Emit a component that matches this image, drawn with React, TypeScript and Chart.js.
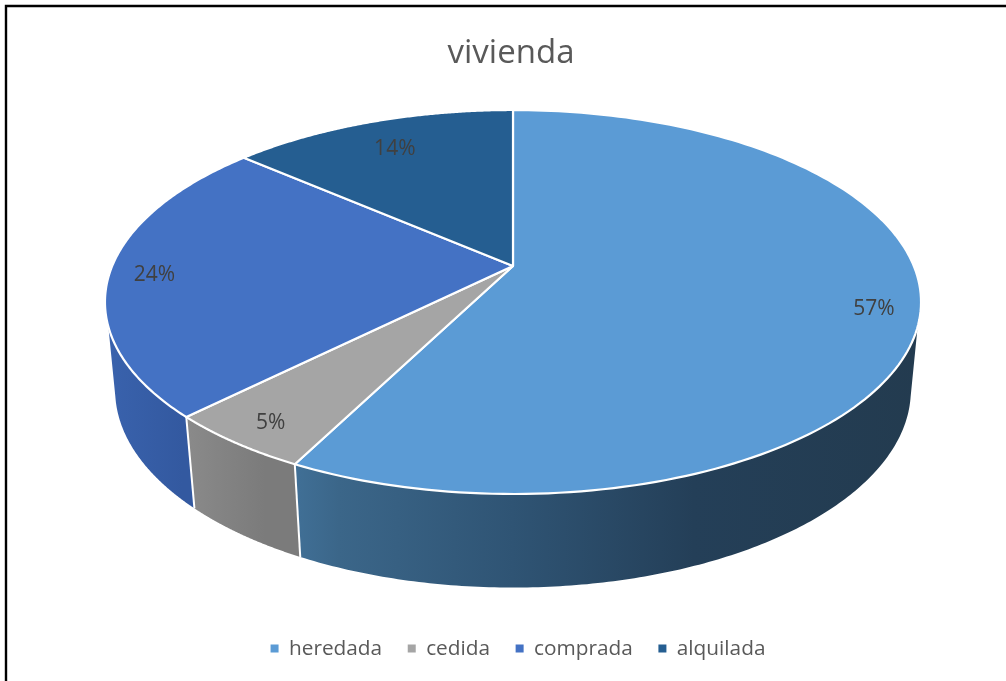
import React, { useEffect, useRef } from "react";
import { Chart, registerables } from "chart.js";

Chart.register(...registerables);

const categories = ["heredada", "cedida", "comprada", "alquilada"];
const shares = [57.49, 5.01, 23.9, 13.6];
const sliceColors = ["#5B9BD5", "#A5A5A5", "#4472C4", "#255E91"];
const wallStops = [
  [[0.2, "#44769F"], [0.29, "#3B6689"], [0.5, "#2F5474"], [0.72, "#243F58"], [1, "#233B4F"]],
  [[0.08, "#8E8E8E"], [0.2, "#7B7B7B"]],
  [[0, "#3A63AE"], [0.1, "#3359A0"]],
  [[0, "#255E91"], [1, "#255E91"]],
];
const labelRadius = [0.89, 0.89, 0.89, 0.81];
const FONT = "'Open Sans', sans-serif";

// view of the disc: a perspective projection of the unit circle
const CX = 513;
const TILT = 0.1875;
const top = { a: 400.8, b: 185.25, y0: 266 };
const bottom = { a: 390.8, b: 190.6, y0: 353 };

function project(d: typeof top, u: number, v: number): [number, number] {
  const w = 1 + TILT * v;
  return [CX + (d.a * u) / w, d.y0 - (d.b * v) / w];
}
const rim = (d: typeof top, t: number, r = 1) => project(d, r * Math.sin(t), r * Math.cos(t));
const rad = (deg: number) => (deg * Math.PI) / 180;

const pie3d = {
  id: "pie3d",
  afterLayout(chart: any) {
    chart.titleBlock.left -= 14;
  },
  beforeDraw(chart: any) {
    const { ctx } = chart;
    ctx.save();
    ctx.strokeStyle = "#000";
    ctx.lineWidth = 2.4;
    ctx.beginPath();
    ctx.moveTo(6, 681);
    ctx.lineTo(6, 6);
    ctx.lineTo(1006, 6);
    ctx.stroke();
    ctx.restore();
  },
  beforeDatasetDraw(chart: any, args: any) {
    const { ctx } = chart;
    const arcs = args.meta.data;
    const steps = 160;
    const angle = (a: any) => [a.startAngle + Math.PI / 2, a.endAngle + Math.PI / 2];
    const clampTo = (t: number, lo: number, hi: number) => Math.max(lo, Math.min(hi, t));
    ctx.save();
    ctx.lineJoin = "round";

    // side walls
    arcs.forEach((arc: any, i: number) => {
      const [s, e] = angle(arc);
      const topA = clampTo(s, rad(108), rad(252));
      const topB = clampTo(e, rad(108), rad(252));
      const botA = clampTo(s, rad(102.7), rad(257.3));
      const botB = clampTo(e, rad(102.7), rad(257.3));
      if (topB - topA <= 0) return;
      ctx.beginPath();
      for (let k = 0; k <= steps; k++) {
        const p = rim(top, topA + ((topB - topA) * k) / steps);
        k ? ctx.lineTo(p[0], p[1]) : ctx.moveTo(p[0], p[1]);
      }
      for (let k = steps; k >= 0; k--) {
        const p = rim(bottom, botA + ((botB - botA) * k) / steps);
        ctx.lineTo(p[0], p[1]);
      }
      ctx.closePath();
      const g = ctx.createLinearGradient(100, 0, 925, 0);
      wallStops[i].forEach((st: any) => g.addColorStop(st[0], st[1]));
      ctx.fillStyle = g;
      ctx.fill();
    });
    // wall separators
    ctx.strokeStyle = "#fff";
    ctx.lineWidth = 2;
    arcs.forEach((arc: any) => {
      const t = arc.endAngle + Math.PI / 2;
      if (t > rad(108) && t < rad(252)) {
        const a = rim(top, t);
        const b = rim(bottom, t);
        ctx.beginPath();
        ctx.moveTo(a[0], a[1]);
        ctx.lineTo(b[0], b[1]);
        ctx.stroke();
      }
    });

    // top face
    arcs.forEach((arc: any) => {
      const [s, e] = angle(arc);
      ctx.beginPath();
      const c = project(top, 0, 0);
      ctx.moveTo(c[0], c[1]);
      for (let k = 0; k <= steps; k++) {
        const p = rim(top, s + ((e - s) * k) / steps);
        ctx.lineTo(p[0], p[1]);
      }
      ctx.closePath();
      ctx.fillStyle = arc.options.backgroundColor;
      ctx.fill();
      ctx.strokeStyle = "#fff";
      ctx.lineWidth = 2.2;
      ctx.stroke();
    });

    // percentage labels
    ctx.fillStyle = "#404040";
    ctx.font = `21px ${FONT}`;
    ctx.textAlign = "center";
    ctx.textBaseline = "middle";
    const values = chart.data.datasets[0].data;
    arcs.forEach((arc: any, i: number) => {
      const [s, e] = angle(arc);
      const p = rim(top, (s + e) / 2, labelRadius[i]);
      ctx.fillText(`${Math.round(values[i])}%`, p[0], p[1] + 3);
    });
    ctx.restore();
    return false;
  },
};

export default function App() {
  const ref = useRef<HTMLCanvasElement>(null);
  useEffect(() => {
    const chart = new Chart(ref.current!, {
      type: "pie",
      data: {
        labels: categories,
        datasets: [{ data: shares, backgroundColor: sliceColors, borderWidth: 0 }],
      },
      options: {
        responsive: false,
        animation: false,
        layout: { padding: { left: 30, top: 34, bottom: 12 } },
        plugins: {
          title: {
            display: true,
            text: "vivienda",
            color: "#595959",
            font: { family: FONT, size: 33, weight: "normal" },
            padding: 0,
          },
          legend: {
            position: "bottom",
            labels: {
              color: "#595959",
              font: { family: FONT, size: 20.8 },
              usePointStyle: true,
              pointStyle: "rect",
              boxWidth: 8,
              boxHeight: 8,
              padding: 25.6,
            },
          },
          tooltip: { enabled: false },
        },
      },
      plugins: [pie3d as any],
    });
    return () => chart.destroy();
  }, []);
  return (
    <div style={{ position: "absolute", left: 0, top: 0, width: 1006, height: 681, background: "#fff" }}>
      <canvas ref={ref} width={1006} height={681} style={{ display: "block" }} />
    </div>
  );
}
